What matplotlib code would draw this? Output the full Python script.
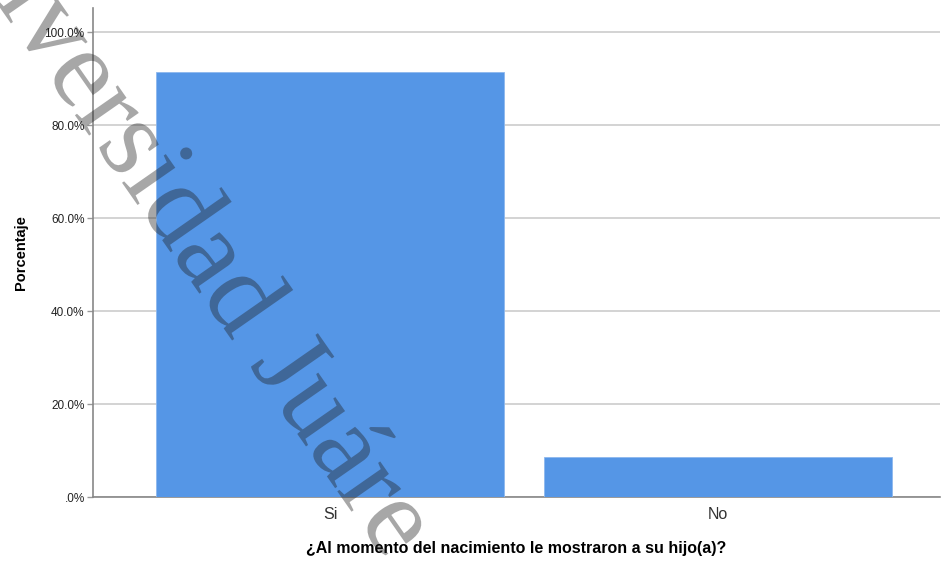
import numpy as np
import matplotlib.pyplot as plt
import matplotlib.patheffects as pe
from matplotlib.patches import Polygon
from matplotlib.transforms import Affine2D

# datos del grafico (porcentajes)
categorias = ['Si', 'No']
porcentajes = [91.4, 8.6]
yticks = [0, 20, 40, 60, 80, 100]
ytick_labels = ['.0%', '20.0%', '40.0%', '60.0%', '80.0%', '100.0%']

plt.rcParams['font.family'] = ['Liberation Sans', 'DejaVu Sans']

fig = plt.figure(figsize=(9.43, 5.65), dpi=100)
ax = fig.add_axes([93 / 943, 1 - 497 / 565, (940 - 93) / 943, (497 - 8) / 565])

x = np.arange(len(categorias))
ax.bar(x, porcentajes, width=0.898, color='#5596E6', edgecolor='#8DB8EE',
       linewidth=0.6, zorder=3)

ax.set_xlim(-0.612, 1.574)
ax.set_ylim(0, 105.2)
ax.set_xticks(x)
ax.set_xticklabels(categorias, fontsize=11.5, color='#333333')
ax.set_yticks(yticks)
ax.set_yticklabels(ytick_labels, fontsize=8.5, color='#222222')
ax.tick_params(axis='x', length=0, pad=7)
ax.tick_params(axis='y', length=4, width=1, color='#999999', pad=2)

ax.grid(axis='y', color='#c8c8c8', linewidth=1.1, zorder=0)
for s in ['top', 'right']:
    ax.spines[s].set_visible(False)
for s in ['left', 'bottom']:
    ax.spines[s].set_color('#888888')
    ax.spines[s].set_linewidth(1.2)

ax.set_xlabel('¿Al momento del nacimiento le mostraron a su hijo(a)?',
              fontsize=11.5, fontweight='bold', labelpad=14)
ax.set_ylabel('Porcentaje', fontsize=10.5, fontweight='bold', labelpad=12)

# marca de agua (recortada como en el original)
wm_size = 82
wm_angle = -55.1
wm_x, wm_y = -0.0908, 1.2034
wm = fig.text(wm_x, wm_y, 'Universidad Juárez del Estado de Durango',
              fontsize=wm_size, family='Liberation Serif', color='#1e1e1e',
              alpha=0.39, rotation=wm_angle, rotation_mode='anchor',
              ha='left', va='baseline', zorder=10,
              path_effects=[pe.Normal()])
em = wm_size / 72 * fig.dpi
clip_tr = (Affine2D().scale(em).rotate_deg(wm_angle)
           .translate(wm_x * fig.bbox.width, wm_y * fig.bbox.height))
clip = Polygon([(-0.2, -1.0), (7.23, -1.0), (7.23, 2.0), (-0.2, 2.0)],
               closed=True, transform=clip_tr)
wm.set_clip_path(clip)

fig.savefig('out.png', dpi=100)
